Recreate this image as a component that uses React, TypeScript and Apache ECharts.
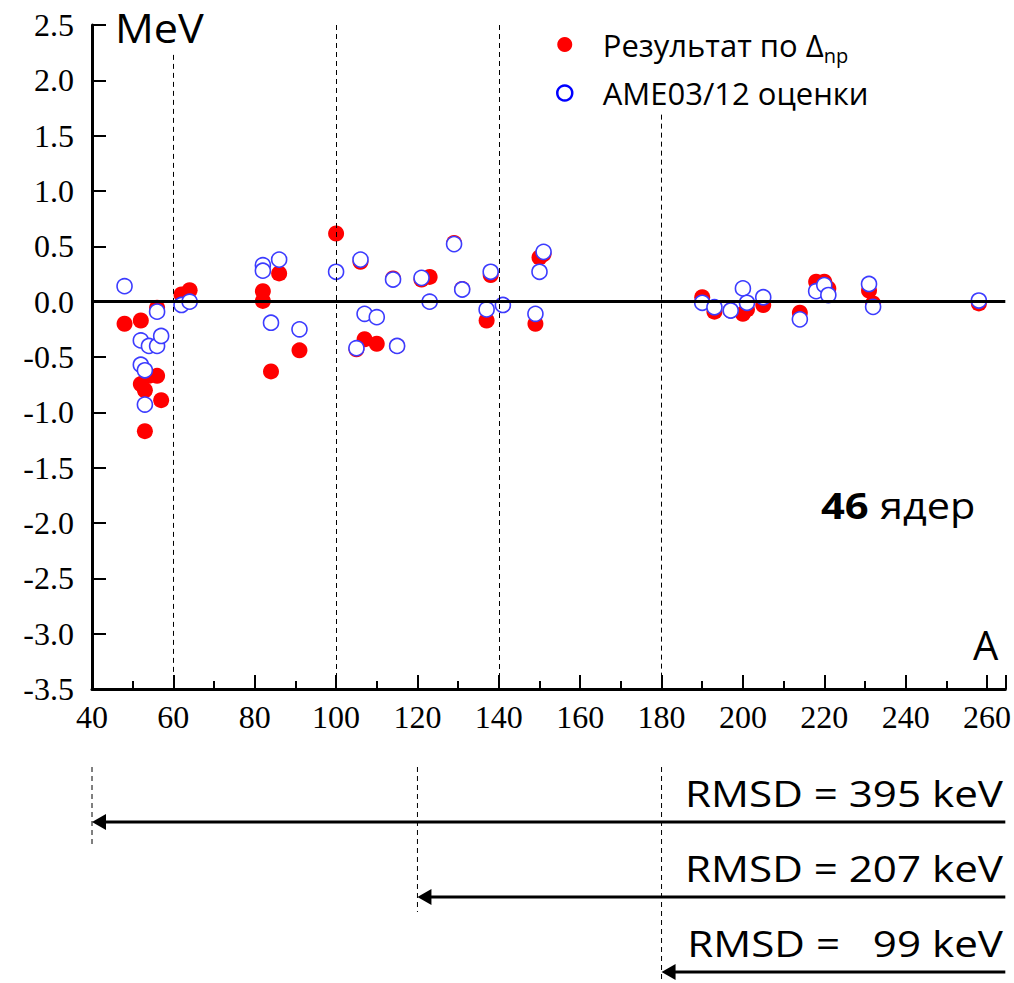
import React, { useEffect, useRef } from "react";
import * as echarts from "echarts";

// Mass number A of each of the 46 nuclei
const massNumbers = [
  48, 52, 52, 53, 53, 54, 56, 56, 57, 62, 64,
  82, 82, 84, 86, 91, 100, 105, 106, 107, 110, 114, 115,
  121, 123, 129, 131, 137, 138, 141, 149, 150, 151,
  190, 193, 197, 200, 201, 205, 214, 218, 220, 221, 231, 232, 258,
];

// Deviation of the Δnp-based result, MeV
const deltaNpResult = [
  -0.2, -0.17, -0.745, -0.8, -1.17, -0.67, -0.056, -0.67, -0.89, 0.065, 0.104,
  0.095, 0.007, -0.63, 0.255, -0.44, 0.616, -0.43, 0.36, -0.34, -0.38, 0.21, -0.4,
  0.2, 0.224, 0.53, 0.115, -0.17, 0.24, -0.03, -0.2, 0.4, 0.43,
  0.04, -0.09, -0.08, -0.11, -0.07, -0.03, -0.1, 0.18, 0.18, 0.12, 0.1, -0.016, -0.016,
];

// Deviation of the AME03/12 estimates, MeV
const ame0312 = [
  0.14, -0.35, -0.57, -0.62, -0.93, -0.4, -0.09, -0.4, -0.31, -0.03, 0.0,
  0.33, 0.28, -0.19, 0.38, -0.25, 0.27, -0.42, 0.38, -0.11, -0.14, 0.2, -0.4,
  0.215, 0.0, 0.52, 0.11, -0.07, 0.27, -0.03, -0.11, 0.27, 0.45,
  -0.01, -0.05, -0.08, 0.12, -0.01, 0.04, -0.16, 0.095, 0.15, 0.06, 0.16, -0.047, 0.01,
];

const xTickValues = [40, 60, 80, 100, 120, 140, 160, 180, 200, 220, 240, 260];
const yTickValues = [-3.5, -3, -2.5, -2, -1.5, -1, -0.5, 0, 0.5, 1, 1.5, 2, 2.5];

// Vertical dashed separators inside the plot: A and the MeV level where each starts
const separatorA = [60, 100, 140, 180];
const separatorTop = [2.23, 2.5, 2.5, 1.69];

// RMSD summary for A above each threshold
const rmsdFromA = [40, 120, 180];
const rmsdLabels = ["RMSD = 395 keV", "RMSD = 207 keV", "RMSD =   99 keV"];

const resultName = "Результат по Δnp";
const ameName = "AME03/12 оценки";

const SANS = "Open Sans";
const SERIF = "Liberation Serif";

const X_MIN = 40;
const X_MAX = 264.5;
const Y_MIN = -3.5;
const Y_MAX = 2.5;

const isTick = (list: number[], v: number) => list.some((t) => Math.abs(t - v) < 1e-6);

function baseOption(): any {
  const separatorLines = separatorA.map((a, i) => [
    { coord: [a, separatorTop[i]], lineStyle: { color: "#000", width: 1, type: [5, 4] } },
    { coord: [a, Y_MIN] },
  ]);

  return {
    animation: false,
    grid: { left: 92, right: 8, top: 25, bottom: 294 },
    legend: {
      orient: "vertical",
      left: 551,
      top: 24,
      itemWidth: 66,
      itemHeight: 15,
      itemGap: 12,
      selectedMode: false,
      data: [
        { name: resultName, icon: "circle", itemStyle: { color: "#ff0000", opacity: 1 } },
        {
          name: ameName,
          icon: "circle",
          itemStyle: { color: "#ffffff", borderColor: "#0000ff", borderWidth: 2.5, opacity: 1 },
        },
      ],
      formatter: (name: string) =>
        name === resultName ? "{m|Результат по Δ}{sub|np}" : "{m|" + name + "}",
      textStyle: {
        color: "#000",
        fontFamily: SANS,
        fontSize: 31,
        rich: {
          m: { fontFamily: SANS, fontSize: 31, color: "#000" },
          sub: { fontFamily: SANS, fontSize: 20, color: "#000", padding: [22, 0, 0, 0] },
        },
      },
    },
    xAxis: {
      type: "value",
      min: X_MIN,
      max: X_MAX,
      interval: 20,
      position: "bottom",
      axisLine: { show: true, onZero: false, lineStyle: { color: "#000", width: 3 } },
      axisTick: { show: true, inside: true, length: 14, lineStyle: { color: "#000", width: 2 } },
      minorTick: { show: true, splitNumber: 2, length: 8, lineStyle: { color: "#000", width: 2 } },
      axisLabel: {
        showMaxLabel: false,
        formatter: (v: number) => (isTick(xTickValues, v) ? String(v) : ""),
        fontSize: 32,
        fontFamily: SERIF,
        color: "#000",
        margin: 12,
      },
      splitLine: { show: false },
    },
    yAxis: {
      type: "value",
      min: Y_MIN,
      max: Y_MAX,
      interval: 0.5,
      axisLine: { show: true, onZero: false, lineStyle: { color: "#000", width: 3 } },
      axisTick: { show: true, inside: true, length: 14, lineStyle: { color: "#000", width: 2 } },
      axisLabel: {
        formatter: (v: number) => (isTick(yTickValues, v) ? v.toFixed(1) : ""),
        fontSize: 32,
        fontFamily: SERIF,
        color: "#000",
        margin: 18,
      },
      splitLine: { show: false },
    },
    series: [
      {
        name: resultName,
        type: "scatter",
        z: 2,
        symbol: "circle",
        symbolSize: 16,
        itemStyle: { color: "#ff0000", opacity: 1 },
        data: massNumbers.map((a, i) => [a, deltaNpResult[i]]),
        markLine: {
          silent: true,
          symbol: ["none", "none"],
          label: { show: false },
          data: [
            ...separatorLines,
            [
              { coord: [X_MIN, 0], lineStyle: { color: "#000", width: 3, type: "solid" } },
              { coord: [X_MAX, 0] },
            ],
          ],
        },
      },
      {
        name: ameName,
        type: "scatter",
        z: 3,
        symbol: "circle",
        symbolSize: 15,
        itemStyle: { color: "#ffffff", borderColor: "#3c3cff", borderWidth: 1.6, opacity: 1 },
        data: massNumbers.map((a, i) => [a, ame0312[i]]),
      },
    ],
  };
}

export default function App() {
  const ref = useRef<HTMLDivElement>(null);

  useEffect(() => {
    document.body.style.margin = "0";
    const chart = echarts.init(ref.current!, null, { renderer: "svg" });

    // First pass lays out the axes so that the annotation positions can be read from them
    chart.setOption(baseOption());
    const px = (a: number) => chart.convertToPixel({ xAxisIndex: 0 }, a) as number;
    const rightEdge = px(X_MAX);
    const thresholdX = rmsdFromA.map(px);

    const arrowY = [822, 897, 972];
    const dashBottom = [847, 912, 983];
    const labelY = [793, 868, 943];

    const sansText = (text: string, x: number, y: number, size: number, sx: number, extra: any = {}) => ({
      type: "text",
      x,
      y,
      scaleX: sx,
      style: {
        text,
        fontFamily: SANS,
        fontSize: size,
        fill: "#000",
        align: extra.align || "left",
        verticalAlign: "middle",
        fontWeight: extra.fontWeight || "normal",
      },
    });

    const graphics: any[] = [
      sansText("MeV", 115, 28, 40, 1.08),
      sansText("A", 973, 644, 40, 1),
      sansText("46", 821, 505, 36, 1.16, { fontWeight: "bold" }),
      sansText("ядер", 880, 505, 36, 1.15),
    ];

    thresholdX.forEach((x, i) => {
      const y = arrowY[i];
      graphics.push(
        {
          type: "line",
          shape: { x1: x, y1: 767, x2: x, y2: dashBottom[i] },
          style: { stroke: "#000", lineWidth: 1, lineDash: [5, 4] },
        },
        {
          type: "line",
          shape: { x1: rightEdge, y1: y, x2: x + 10, y2: y },
          style: { stroke: "#000", lineWidth: 3 },
        },
        {
          type: "polygon",
          shape: { points: [[x, y], [x + 14, y - 8], [x + 14, y + 8]] },
          style: { fill: "#000" },
        },
        sansText(rmsdLabels[i], 1003, labelY[i], 37, 1.14, { align: "right" })
      );
    });

    // Fresh render of the full chart together with the annotations
    chart.clear();
    chart.setOption({ ...baseOption(), graphic: graphics });

    return () => chart.dispose();
  }, []);

  return <div ref={ref} style={{ width: 1014, height: 983 }} />;
}
